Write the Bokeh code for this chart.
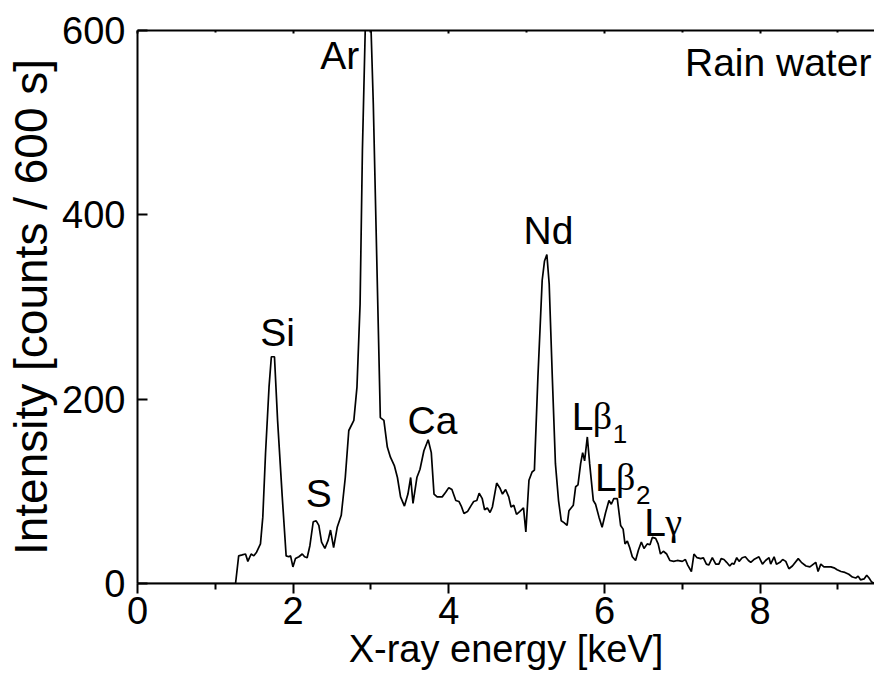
from bokeh.plotting import figure
from bokeh.models import ColumnDataSource, Range1d, FixedTicker, LinearAxis
from bokeh.embed import file_html
from bokeh.resources import INLINE
from bokeh.core.properties import value

# ---------------- data ----------------
energy = [0.0, 1.26, 1.30, 1.345, 1.388, 1.418, 1.46, 1.495, 1.53, 1.58, 1.61, 1.645,
          1.69, 1.72, 1.76, 1.80, 1.86, 1.91, 1.945, 1.967, 1.997, 2.03, 2.074, 2.117,
          2.147, 2.18, 2.215, 2.258, 2.296, 2.33, 2.365, 2.408, 2.45, 2.48, 2.52, 2.566,
          2.618, 2.67, 2.715, 2.78, 2.82, 2.86, 2.89, 2.94, 2.98, 3.03, 3.12, 3.166,
          3.21, 3.25, 3.30, 3.34, 3.38, 3.43, 3.475, 3.51, 3.54, 3.59, 3.63, 3.68,
          3.735, 3.775, 3.81, 3.85, 3.915, 3.96, 4.0, 4.04, 4.09, 4.13, 4.16, 4.195,
          4.24, 4.29, 4.32, 4.36, 4.39, 4.43, 4.46, 4.495, 4.53, 4.56, 4.615, 4.66,
          4.69, 4.73, 4.77, 4.80, 4.835, 4.87, 4.91, 4.96, 4.99, 5.03, 5.07, 5.10,
          5.145, 5.20, 5.23, 5.26, 5.29, 5.33, 5.37, 5.41, 5.445, 5.48, 5.52, 5.544,
          5.60, 5.63, 5.66, 5.694, 5.72, 5.745, 5.78, 5.81, 5.857, 5.886, 5.93, 5.97,
          6.015, 6.058, 6.088, 6.12, 6.165, 6.208, 6.24, 6.264, 6.294, 6.324, 6.358, 6.40,
          6.436, 6.474, 6.508, 6.55, 6.585, 6.615, 6.658, 6.69, 6.72, 6.757, 6.80, 6.84,
          6.89, 6.936, 7.0, 7.04, 7.07, 7.117, 7.15, 7.19, 7.237, 7.27, 7.31, 7.34,
          7.386, 7.43, 7.47, 7.50, 7.536, 7.57, 7.61, 7.64, 7.665, 7.70, 7.73, 7.77,
          7.81, 7.85, 7.88, 7.92, 7.985, 8.03, 8.07, 8.115, 8.136, 8.18, 8.21, 8.256,
          8.29, 8.33, 8.37, 8.415, 8.49, 8.53, 8.59, 8.64, 8.715, 8.745, 8.78, 8.82,
          8.865, 8.91, 8.95, 8.99, 9.04, 9.09, 9.14, 9.186, 9.23, 9.26, 9.29, 9.336,
          9.37, 9.40, 9.43, 9.47]
counts = [0, 0, 30, 31, 32, 24, 32, 30, 34, 43, 72, 141,
          213, 246, 246, 177, 94, 30, 29, 30, 18, 27, 29, 32,
          29, 28, 41, 67, 68, 63, 45, 38, 47, 58, 39, 61,
          74, 115, 166, 177, 213, 303, 470, 650, 660, 520, 180, 177,
          148, 137, 128, 115, 94, 84, 97, 115, 87, 115, 124, 144,
          156, 142, 97, 94, 94, 99, 104, 102, 90, 89, 84, 76,
          78, 85, 89, 90, 98, 92, 80, 82, 77, 83, 109, 103,
          97, 102, 94, 83, 85, 75, 78, 82, 56, 112, 121, 123,
          224, 329, 350, 357, 325, 224, 130, 90, 68, 66, 63, 79,
          85, 105, 107, 130, 142, 133, 159, 130, 90, 86, 72, 61,
          77, 90, 86, 92, 92, 63, 59, 43, 46, 39, 29, 25,
          36, 45, 38, 43, 42, 50, 49, 43, 32, 35, 32, 25,
          24, 25, 24, 26, 20, 13, 32, 28, 27, 28, 21, 20,
          28, 21, 21, 27, 26, 23, 19, 22, 21, 28, 24, 28,
          29, 25, 23, 26, 29, 21, 25, 28, 21, 29, 21, 23,
          26, 24, 16, 19, 27, 23, 19, 18, 23, 13, 21, 18,
          18, 18, 17, 15, 13, 12, 10, 7, 6, 8, 4, 5,
          9, 6, 2, 0]

x_ticks = [0, 2, 4, 6, 8]
x_minor_ticks = [1, 3, 5, 7, 9]
y_ticks = [0, 200, 400, 600]

peak_names = ["Ar", "Si", "S", "Ca", "Nd"]
peak_x = [2.60, 1.80, 2.33, 3.79, 5.28]
peak_y = [559, 258, 83, 163, 369]

lline_greek = ["β", "β", "γ"]
lline_sub = ["1", "2"]
lline_x = [5.58, 5.88, 6.51]
lline_y = [167, 101, 52]

sample_name = ["Rain water"]
sample_x = [9.43]
sample_y = [551]

x_label = "X-ray energy [keV]"
y_label = "Intensity [counts / 600 s]"

# ---------------- figure ----------------
FONT = "Liberation Sans"
TS = 39            # annotation font size (px)
BASE_FIX = -0.34   # baseline correction for the svg text, in em

p = figure(width=874, height=682, x_range=Range1d(0, 9.47), y_range=Range1d(0, 600),
           output_backend="svg", toolbar_location=None,
           min_border_left=137, min_border_right=0, min_border_top=30, min_border_bottom=99,
           x_axis_label=x_label, y_axis_label=y_label)
p.outline_line_color = None
p.xgrid.visible = False
p.ygrid.visible = False
p.background_fill_color = "white"
p.border_fill_color = "white"

xa = p.xaxis[0]
xa.ticker = FixedTicker(ticks=x_ticks, minor_ticks=x_minor_ticks)
xa.major_tick_in = 0
xa.major_tick_out = 10
xa.minor_tick_in = 0
xa.minor_tick_out = 6
xa.axis_line_width = 2
xa.major_tick_line_width = 2
xa.minor_tick_line_width = 2
xa.major_label_text_font = FONT
xa.major_label_text_font_size = "38px"
xa.major_label_text_color = "black"
xa.major_label_standoff = 3
xa.axis_label_text_font = FONT
xa.axis_label_text_font_size = "38px"
xa.axis_label_text_font_style = "normal"
xa.axis_label_text_color = "black"
xa.axis_label_standoff = 1

ya = p.yaxis[0]
ya.ticker = FixedTicker(ticks=y_ticks, minor_ticks=[])
ya.major_tick_in = 10
ya.major_tick_out = 0
ya.minor_tick_in = 0
ya.minor_tick_out = 0
ya.axis_line_width = 2
ya.major_tick_line_width = 2
ya.major_label_text_font = FONT
ya.major_label_text_font_size = "38px"
ya.major_label_text_color = "black"
ya.major_label_standoff = 12
ya.axis_label_text_font = FONT
ya.axis_label_text_font_size = "46px"
ya.axis_label_text_font_style = "normal"
ya.axis_label_text_color = "black"
ya.axis_label_standoff = 2

top = LinearAxis(ticker=FixedTicker(ticks=x_ticks, minor_ticks=x_minor_ticks),
                 major_label_overrides={t: "" for t in x_ticks},
                 major_label_text_font_size="1px", major_label_standoff=0,
                 major_tick_in=3, major_tick_out=0, minor_tick_in=2, minor_tick_out=0,
                 axis_line_width=2, major_tick_line_width=2, minor_tick_line_width=2)
p.add_layout(top, "above")

src = ColumnDataSource(data=dict(energy=energy, counts=counts))
p.line("energy", "counts", source=src, line_color="black", line_width=1.7)

off = BASE_FIX * TS
p.text(x=peak_x, y=peak_y, text=peak_names, y_offset=off, text_font=value(FONT),
       text_font_size=f"{TS}px", text_align="center", text_baseline="alphabetic",
       text_color="black")
p.text(x=lline_x, y=lline_y, text=["L"] * len(lline_x), y_offset=off, text_font=value(FONT),
       text_font_size=f"{TS}px", text_align="left", text_baseline="alphabetic",
       text_color="black")
p.text(x=lline_x, y=lline_y, text=lline_greek, x_offset=21, y_offset=off,
       text_font=value("Liberation Serif"), text_font_size="38px", text_align="left",
       text_baseline="alphabetic", text_color="black")
p.text(x=lline_x[:2], y=lline_y[:2], text=lline_sub, x_offset=41,
       y_offset=off + 13 + BASE_FIX * 26 - BASE_FIX * TS,
       text_font=value(FONT), text_font_size="26px", text_align="left",
       text_baseline="alphabetic", text_color="black")
p.text(x=sample_x, y=sample_y, text=sample_name, y_offset=off, text_font=value(FONT),
       text_font_size=f"{TS}px", text_align="right", text_baseline="alphabetic",
       text_color="black")

open("out.html", "w").write(file_html(p, INLINE))
